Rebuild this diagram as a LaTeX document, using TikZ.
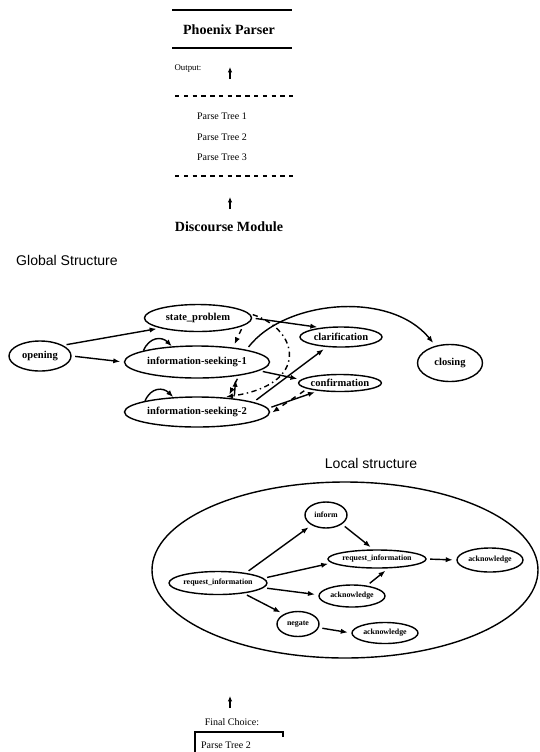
\documentclass[tikz,border=0pt]{standalone}
\usepackage{fontspec}
\setmainfont{Liberation Serif}
\setsansfont{Liberation Sans}
\usepackage{tikz}
\usetikzlibrary{shapes.geometric,arrows.meta}

\tikzset{
 st/.style={ellipse, draw, thick, inner sep=0pt, font=\fontsize{6}{7}\selectfont\bfseries},
 lst/.style={st, font=\fontsize{4.5}{5}\selectfont\bfseries},
 sz/.style 2 args={minimum width=#1*0.02cm, minimum height=#2*0.02cm},
 tr/.style={-{Latex[length=4pt,width=3pt]}, thick, shorten >=2pt, shorten <=2pt},
 txt/.style={font=\fontsize{5.7}{6}\selectfont},
 head/.style={font=\fontsize{8}{9}\selectfont\bfseries},
 sect/.style={font=\sffamily\fontsize{8}{9}\selectfont},
 sep/.style={semithick, dash pattern=on 2.5pt off 2.5pt},
}

\begin{document}
\begin{tikzpicture}[x=0.02cm, y=-0.02cm]
 \useasboundingbox (0,0) rectangle (539,752);

 % parser output
 \draw [line width=1.1pt] (172,10) -- (292,10);
 \node[head] (parser) at (229,30) {Phoenix Parser};
 \draw [line width=1.1pt] (172,48) -- (292,48);
 \node[font=\fontsize{5}{6}\selectfont] (out) at (188,69) {Output:};
 \coordinate (a1) at (230,79);
 \coordinate (a2) at (230,67);
 \draw [-{Latex[length=3pt,width=2.5pt]}, thick] (a1) -- (a2);
 \draw [sep] (175,96) -- (293,96);
 \node[txt] (pt1) at (222,116) {Parse Tree 1};
 \node[txt] (pt2) at (222,137) {Parse Tree 2};
 \node[txt] (pt3) at (222,157) {Parse Tree 3};
 \draw [sep] (175,176) -- (293,176);
 \coordinate (b1) at (230,209);
 \coordinate (b2) at (230,197);
 \draw [-{Latex[length=3pt,width=2.5pt]}, thick] (b1) -- (b2);
 \node[head] (disc) at (229,227) {Discourse Module};

 % global structure
 \node[sect, anchor=west] (glob) at (10,260) {Global Structure};
 \node[st, sz={62}{30}] (opening) at (40,356) {opening};
 \node[st, sz={107}{27}] (stateprob) at (198,318) {state\_problem};
 \node[st, sz={145}{32}] (info1) at (197,362) {information-seeking-1};
 \node[st, sz={145}{30}] (info2) at (197,412) {information-seeking-2};
 \node[st, sz={82}{20}] (clar) at (341,337) {clarification};
 \node[st, sz={66}{17}] (conf) at (340,383) {confirmation};
 \node[st, sz={65}{37}] (closing) at (450,363) {closing};

 \draw [tr] (opening.25) -- (stateprob.195);
 \draw [tr] (opening.east) -- (info1.west);
 \draw [-{Latex[length=4pt,width=3pt]}, thick] (info1.168) .. controls +(6,-14) and +(-10,-10) .. (info1.148);
 \draw [-{Latex[length=4pt,width=3pt]}, thick] (info2.168) .. controls +(6,-14) and +(-10,-10) .. (info2.148);
 \draw [tr] (stateprob.east) -- (clar.155);
 \draw [tr, dashed] (stateprob.-10) -- (info1.22);
 \draw [tr] (info1.14) .. controls (285,300) and (390,290) .. (closing.130);
 \draw [tr] (info1.-8) -- (conf.175);
 \draw [tr, dashed] (info1.-18) -- (info2.25);
 \draw [tr] (info2.20) -- (info1.-20);
 \draw [tr] (info2.10) -- (clar.215);
 \draw [tr] (info2.3) -- (conf.200);
 \draw [tr, dashed] (conf.190) -- (info2.-2);
 \draw [tr, dash dot] (stateprob.5) .. controls (300,330) and (310,385) .. (info2.30);

 % local structure
 \node[sect] (loclab) at (371,463) {Local structure};
 \node[draw, thick, ellipse, sz={386}{176}] (local) at (345,570) {};
 \node[lst, sz={42}{26}] (inform) at (326,515) {inform};
 \node[lst, sz={98}{18}] (reqR) at (377,559) {request\_information};
 \node[lst, sz={66}{24}] (ackR) at (490,560) {acknowledge};
 \node[lst, sz={66}{22}] (ackM) at (352,596) {acknowledge};
 \node[lst, sz={66}{21}] (ackB) at (385,633) {acknowledge};
 \node[lst, sz={97}{23}] (reqL) at (218,583) {request\_information};
 \node[lst, sz={42}{25}] (negate) at (298,624) {negate};

 \draw [tr] (reqL.20) -- (inform.215);
 \draw [tr] (reqL.6) -- (reqR.185);
 \draw [tr] (reqL.-6) -- (ackM.178);
 \draw [tr] (reqL.-22) -- (negate.145);
 \draw [tr] (inform.-30) -- (reqR.110);
 \draw [tr] (reqR.east) -- (ackR.west);
 \draw [tr] (ackM.35) -- (reqR.-40);
 \draw [tr] (negate.-10) -- (ackB.west);

 % result
 \coordinate (c1) at (230,708);
 \coordinate (c2) at (230,696);
 \draw [-{Latex[length=3pt,width=2.5pt]}, thick] (c1) -- (c2);
 \node[txt] (final) at (232,722) {Final Choice:};
 \draw [thick] (195,752) -- (195,732) -- (283,732) -- (283,737);
 \node[txt] (pick) at (226,745) {Parse Tree 2};
\end{tikzpicture}
\end{document}
